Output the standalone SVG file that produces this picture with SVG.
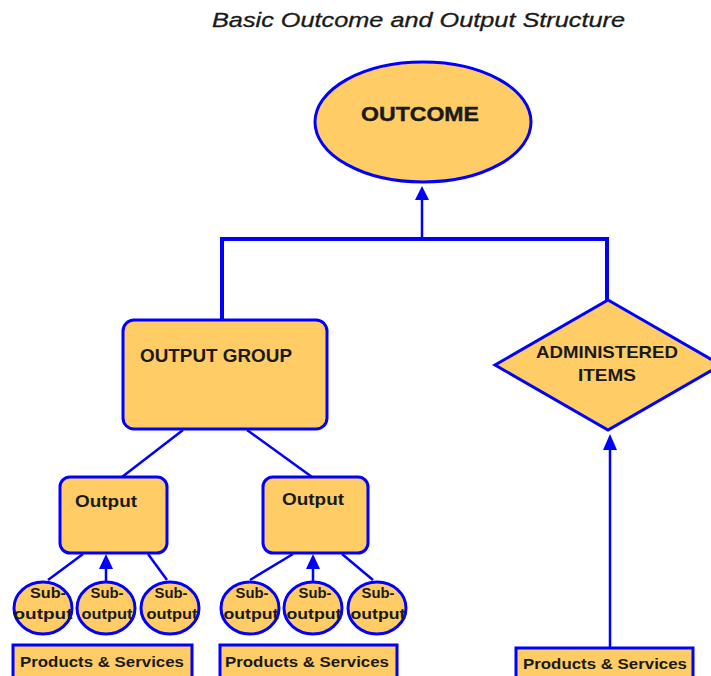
<svg xmlns="http://www.w3.org/2000/svg" width="711" height="676" viewBox="0 0 711 676">
<defs>
<style>
.n{fill:#FFCC66;stroke:#0000FF;stroke-width:3}
.t{font-family:"Liberation Sans",Arial,sans-serif;font-weight:bold;fill:#1a1a1a}
.c{fill:none;stroke:#0000FF;stroke-width:2.5}
.cb{fill:none;stroke:#0000FF;stroke-width:4}
.ah{fill:#0000FF}
</style>
</defs>
<rect width="711" height="676" fill="#fff"/>
<text x="212" y="27" font-family="Liberation Sans, Arial, sans-serif" font-style="italic" font-size="20" fill="#1a1a1a" stroke="#1a1a1a" stroke-width="0.3" textLength="413" lengthAdjust="spacingAndGlyphs">Basic Outcome and Output Structure</text>

<g id="connectors">
<polyline class="cb" points="222,321 222,239 607,239 607,301"/>
<line class="c" x1="422" y1="239" x2="422" y2="198"/>
<polygon class="ah" points="422,186 415,200 429,200"/>
<line class="c" x1="183" y1="430" x2="122" y2="477"/>
<line class="c" x1="247" y1="430" x2="312" y2="477"/>
<line class="c" x1="48" y1="580" x2="83" y2="554"/>
<line class="c" x1="106" y1="582" x2="106" y2="566"/>
<polygon class="ah" points="106,554 99,569 113,569"/>
<line class="c" x1="167" y1="580" x2="148" y2="554"/>
<line class="c" x1="250" y1="580" x2="293" y2="554"/>
<line class="c" x1="313" y1="582" x2="313" y2="566"/>
<polygon class="ah" points="313,554 306,569 320,569"/>
<line class="c" x1="373" y1="580" x2="342" y2="554"/>
<line class="c" x1="610" y1="647" x2="610" y2="445"/>
<polygon class="ah" points="610,434 603,450 617,450"/>
</g>

<g id="outcome">
<ellipse class="n" cx="423" cy="122" rx="108" ry="60"/>
<text class="t" x="420" y="121" font-size="21" font-weight="normal" stroke="#1a1a1a" stroke-width="0.4" text-anchor="middle" textLength="118" lengthAdjust="spacingAndGlyphs">OUTCOME</text>
</g>

<g id="output-group">
<rect class="n" x="123" y="320" width="204" height="109" rx="11"/>
<text class="t" x="140" y="362" font-size="18" textLength="152" lengthAdjust="spacingAndGlyphs">OUTPUT GROUP</text>
</g>

<g id="administered-items">
<polygon class="n" points="608,300 721,365 608,430 495,365"/>
<text class="t" x="607" y="358" font-size="17" text-anchor="middle" textLength="142" lengthAdjust="spacingAndGlyphs">ADMINISTERED</text>
<text class="t" x="607" y="381" font-size="17" text-anchor="middle" textLength="58" lengthAdjust="spacingAndGlyphs">ITEMS</text>
</g>

<g id="output-1">
<rect class="n" x="60" y="477" width="107" height="76" rx="10"/>
<text class="t" x="75" y="507" font-size="17" textLength="62" lengthAdjust="spacingAndGlyphs">Output</text>
</g>
<g id="output-2">
<rect class="n" x="263" y="477" width="105" height="76" rx="10"/>
<text class="t" x="282" y="505" font-size="17" textLength="62" lengthAdjust="spacingAndGlyphs">Output</text>
</g>

<g id="sub-1-1">
<ellipse class="n" cx="43" cy="608" rx="29" ry="26"/>
<text class="t" x="48" y="598" font-size="15" text-anchor="middle" textLength="36" lengthAdjust="spacingAndGlyphs">Sub-</text>
<text class="t" x="43" y="619" font-size="15" text-anchor="middle" textLength="59" lengthAdjust="spacingAndGlyphs">output</text>
</g>
<g id="sub-1-2">
<ellipse class="n" cx="106" cy="608" rx="29" ry="26"/>
<text class="t" x="107" y="598" font-size="15" text-anchor="middle" textLength="33" lengthAdjust="spacingAndGlyphs">Sub-</text>
<text class="t" x="107" y="619" font-size="15" text-anchor="middle" textLength="51" lengthAdjust="spacingAndGlyphs">output</text>
</g>
<g id="sub-1-3">
<ellipse class="n" cx="170" cy="608" rx="29" ry="26"/>
<text class="t" x="171" y="598" font-size="15" text-anchor="middle" textLength="33" lengthAdjust="spacingAndGlyphs">Sub-</text>
<text class="t" x="172" y="619" font-size="15" text-anchor="middle" textLength="51" lengthAdjust="spacingAndGlyphs">output</text>
</g>
<g id="sub-2-1">
<ellipse class="n" cx="250" cy="608" rx="29" ry="26"/>
<text class="t" x="252" y="598" font-size="15" text-anchor="middle" textLength="33" lengthAdjust="spacingAndGlyphs">Sub-</text>
<text class="t" x="251" y="619" font-size="15" text-anchor="middle" textLength="55" lengthAdjust="spacingAndGlyphs">output</text>
</g>
<g id="sub-2-2">
<ellipse class="n" cx="313" cy="608" rx="29" ry="26"/>
<text class="t" x="315" y="598" font-size="15" text-anchor="middle" textLength="33" lengthAdjust="spacingAndGlyphs">Sub-</text>
<text class="t" x="314" y="619" font-size="15" text-anchor="middle" textLength="55" lengthAdjust="spacingAndGlyphs">output</text>
</g>
<g id="sub-2-3">
<ellipse class="n" cx="377" cy="608" rx="29" ry="26"/>
<text class="t" x="378" y="598" font-size="15" text-anchor="middle" textLength="33" lengthAdjust="spacingAndGlyphs">Sub-</text>
<text class="t" x="378" y="619" font-size="15" text-anchor="middle" textLength="55" lengthAdjust="spacingAndGlyphs">output</text>
</g>

<g id="ps-1">
<rect class="n" x="13" y="645" width="179" height="40"/>
<text class="t" x="20" y="667" font-size="15" textLength="164" lengthAdjust="spacingAndGlyphs">Products &amp; Services</text>
</g>
<g id="ps-2">
<rect class="n" x="220" y="645" width="177" height="40"/>
<text class="t" x="225" y="667" font-size="15" textLength="164" lengthAdjust="spacingAndGlyphs">Products &amp; Services</text>
</g>
<g id="ps-3">
<rect class="n" x="516" y="648" width="177" height="40"/>
<text class="t" x="523" y="669" font-size="15" textLength="164" lengthAdjust="spacingAndGlyphs">Products &amp; Services</text>
</g>
</svg>
